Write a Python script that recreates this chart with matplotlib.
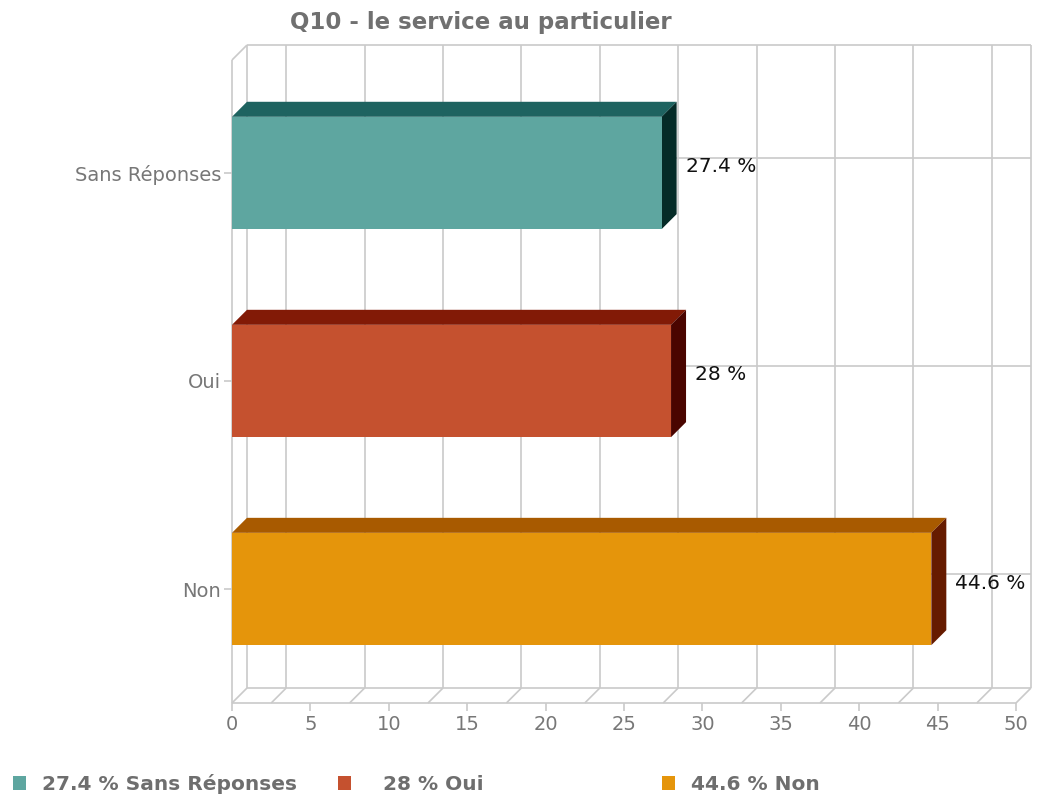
import matplotlib
matplotlib.use("Agg")
import matplotlib.pyplot as plt
from matplotlib.patches import Polygon, Rectangle

# data
categories = ["Sans Réponses", "Oui", "Non"]
values = [27.4, 28, 44.6]
front_colors = ["#5ea6a0", "#c5512f", "#e5950b"]
top_colors = ["#1e6360", "#821a06", "#a85a00"]
side_colors = ["#052b27", "#4a0500", "#661b00"]
xticks = [0, 5, 10, 15, 20, 25, 30, 35, 40, 45, 50]
legend_labels = ["27.4 % Sans Réponses", "28 % Oui", "44.6 % Non"]

W, H = 1043, 799
fig = plt.figure(figsize=(W / 100, H / 100), dpi=100)
fig.patch.set_facecolor("white")

# front plane of the plot box in pixels
left, right, bottom, top = 232, 1016, 96, 739
ax = fig.add_axes([left / W, bottom / H, (right - left) / W, (top - bottom) / H])
y0, y1 = -0.548, 2.543
ax.set_xlim(0, 50)
ax.set_ylim(y0, y1)
ax.patch.set_visible(False)
for s in ax.spines.values():
    s.set_visible(False)

# depth of the fake 3d box, 15 px to the right and up
depth = 15
dx = depth / ((right - left) / 50)
dy = depth / ((top - bottom) / (y1 - y0))

grid = "#cacaca"
lw = 1.2


def line(xs, ys, z=1):
    ax.plot(xs, ys, color=grid, lw=lw, zorder=z, clip_on=False, solid_capstyle="butt")


# back wall
for x in [2.5 + 5 * k for k in range(10)]:
    line([x + dx, x + dx], [y0 + dy, y1 + dy])
    line([x, x + dx], [y0, y0 + dy])
line([dx, dx], [y0 + dy, y1 + dy])
line([50 + dx, 50 + dx], [y0 + dy, y1 + dy])
line([dx, 50 + dx], [y1 + dy, y1 + dy])
line([dx, 50 + dx], [y0 + dy, y0 + dy])
pos = [2, 1, 0]
for p in pos:
    line([dx, 50 + dx], [p + dy, p + dy])

# floor and left wall
line([0, dx], [y0, y0 + dy])
line([50, 50 + dx], [y0, y0 + dy])
line([0, 50], [y0, y0], z=2)
line([0, 0], [y0, y1], z=2)
line([0, dx], [y1, y1 + dy], z=2)

# bars
h = 0.54
for p, v, cf, ct, cs in zip(pos, values, front_colors, top_colors, side_colors):
    b, t = p - h / 2, p + h / 2
    ax.add_patch(Polygon([(0, t), (dx, t + dy), (v + dx, t + dy), (v, t)],
                         closed=True, fc=ct, ec="none", zorder=3, clip_on=False))
    ax.add_patch(Polygon([(v, b), (v, t), (v + dx, t + dy), (v + dx, b + dy)],
                         closed=True, fc=cs, ec="none", zorder=3, clip_on=False))
    ax.add_patch(Rectangle((0, b), v, h, fc=cf, ec="none", zorder=4, clip_on=False))
    ax.annotate(f"{v:g} %", xy=(v + dx, p), xytext=(9, 6), textcoords="offset pixels",
                ha="left", va="center", fontsize=14.5, color="#111111", zorder=5)

# axes ticks
ax.set_xticks(xticks)
ax.set_xticklabels([str(t) for t in xticks])
ax.set_yticks(pos)
ax.set_yticklabels(categories)
ax.tick_params(axis="both", colors=grid, labelcolor="#777777", labelsize=14,
               length=6, width=lw)
ax.tick_params(axis="x", pad=3)
ax.tick_params(axis="y", pad=2)

fig.text(481 / W, 1 - 22 / H, "Q10 - le service au particulier", ha="center",
         va="center", fontsize=16.5, fontweight="bold", color="#707070")

# legend
sq_x = [13, 338, 662]
txt_x = [42, 383, 691]
for sx, tx, c, lab in zip(sq_x, txt_x, front_colors, legend_labels):
    fig.add_artist(Rectangle((sx / W, 1 - 790 / H), 13 / W, 14 / H, fc=c, ec="none",
                             transform=fig.transFigure))
    fig.text(tx / W, 1 - 784 / H, lab, ha="left", va="center", fontsize=14.5,
             fontweight="bold", color="#6e6e6e")

fig.savefig("out.png", dpi=100)
